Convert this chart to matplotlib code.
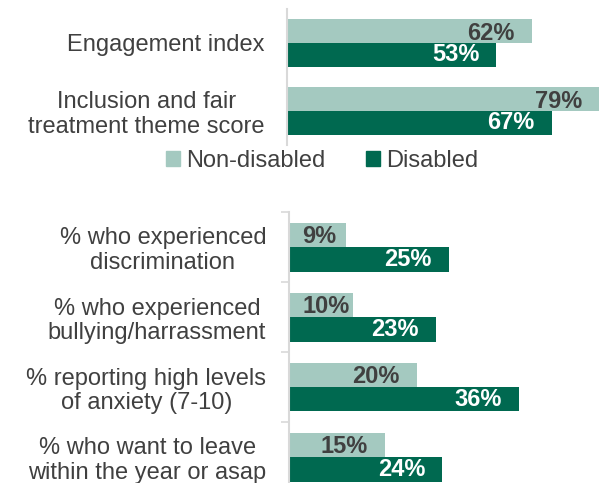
import numpy as np
import matplotlib
matplotlib.use("Agg")
import matplotlib.pyplot as plt
from matplotlib.patches import Patch

plt.rcParams['font.family'] = ['Liberation Sans', 'DejaVu Sans']

# données
top_labels = ["Engagement index", "Inclusion and fair\ntreatment theme score"]
top_non_disabled = [62, 79]
top_disabled = [53, 67]

bottom_labels = ["% who experienced\ndiscrimination",
                 "% who experienced\nbullying/harrassment",
                 "% reporting high levels\nof anxiety (7-10)",
                 "% who want to leave\nwithin the year or asap"]
bottom_non_disabled = [9, 10, 20, 15]
bottom_disabled = [25, 23, 36, 24]

series_names = ["Non-disabled", "Disabled"]

LIGHT = "#a4c9c0"
DARK = "#006950"
TXT = "#404040"
GRID = "#d9d9d9"
FS = 17
DPI = 100

fig = plt.figure(figsize=(6.06, 4.83), dpi=DPI)
W, H = 606, 483

def px_axes(left, right, top, bottom):
    return fig.add_axes([left / W, 1 - bottom / H, (right - left) / W, (bottom - top) / H])

ax1 = px_axes(287, 603, 9, 145)
ax2 = px_axes(288.5, 608.5, 212, 492)


def draw_panel(ax, labels, light, dark, xmax, ticks_between):
    y = np.arange(len(labels))
    h = 0.35
    b1 = ax.barh(y - h / 2, light, height=h, color=LIGHT)
    b2 = ax.barh(y + h / 2, dark, height=h, color=DARK)
    ax.set_xlim(0, xmax)
    ax.set_ylim(len(labels) - 0.5, -0.5)
    ax.set_yticks(y)
    ax.set_yticklabels(labels, fontsize=FS, color=TXT, multialignment="center",
                       linespacing=1.15)
    ax.tick_params(axis="y", which="major", length=0, pad=16)
    ax.set_xticks([])
    for s in ["top", "right", "bottom"]:
        ax.spines[s].set_visible(False)
    ax.spines["left"].set_color(GRID)
    ax.spines["left"].set_linewidth(1.5)
    if ticks_between:
        ax.set_yticks(np.arange(-0.5, len(labels)), minor=True)
        ax.tick_params(axis="y", which="minor", length=6, width=1.2, color=GRID)
    texts = []
    for bars, vals, col, dy in ((b1, light, TXT, -1.5), (b2, dark, "white", 0)):
        for bar, v in zip(bars, vals):
            yc = bar.get_y() + bar.get_height() / 2
            t = ax.annotate(f"{v}%", (v, yc), xytext=(-17 * 72 / DPI, dy),
                            textcoords="offset points", ha="right", va="center",
                            fontsize=FS, fontweight="bold", color=col)
            texts.append((t, yc, dy))
    return texts


labels1 = draw_panel(ax1, top_labels, top_non_disabled, top_disabled, 80, False)
labels2 = draw_panel(ax2, bottom_labels, bottom_non_disabled, bottom_disabled, 50, True)

# étiquettes trop à gauche : on les cale au début de la barre
fig.canvas.draw()
r = fig.canvas.get_renderer()
for ax, texts in ((ax1, labels1), (ax2, labels2)):
    x0 = ax.get_window_extent(r).x0
    for t, yc, dy in texts:
        bb = t.get_window_extent(r)
        if bb.x0 < x0 + 14:
            t.xy = (0, yc)
            t.set_position((14 * 72 / DPI, dy))
            t.set_ha("left")

handles = [Patch(color=LIGHT), Patch(color=DARK)]
fig.legend(handles, series_names, loc="center", bbox_to_anchor=(322 / W, 1 - 161 / H),
           ncol=2, frameon=False, fontsize=FS, labelcolor=TXT,
           handlelength=0.6, handleheight=0.6, handletextpad=0.25,
           columnspacing=1.7, borderpad=0)

fig.savefig("out.png", dpi=DPI)
